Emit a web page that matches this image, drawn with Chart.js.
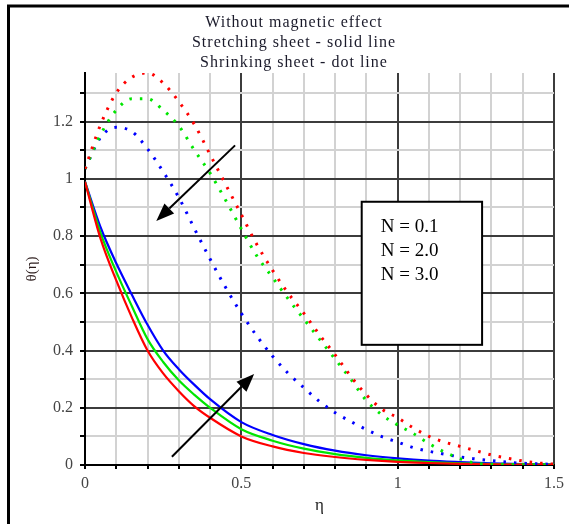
<!DOCTYPE html>
<html>
<head>
<meta charset="utf-8">
<script src="https://cdn.jsdelivr.net/npm/chart.js@4.4.0/dist/chart.umd.min.js"></script>
<style>
  html, body { margin: 0; padding: 0; background: #fff; }
  #wrap { position: relative; width: 569px; height: 524px; }
</style>
</head>
<body>
<div id="wrap"><canvas id="thetaChart"></canvas></div>
<script>
// eta grid for the stretching (solid) curves
const etaSolid = [0, 0.05, 0.1, 0.15, 0.2, 0.25, 0.3, 0.35, 0.4, 0.5, 0.6, 0.7, 0.8, 0.9, 1.0, 1.1, 1.2, 1.3, 1.4, 1.5];
const solidN01 = [0.99, 0.79, 0.645, 0.515, 0.40, 0.32, 0.258, 0.205, 0.165, 0.10, 0.065, 0.042, 0.028, 0.018, 0.011, 0.007, 0.004, 0.002, 0.001, 0.0];
const solidN20 = [0.99, 0.81, 0.675, 0.555, 0.44, 0.36, 0.296, 0.245, 0.20, 0.125, 0.085, 0.057, 0.038, 0.025, 0.016, 0.010, 0.006, 0.003, 0.002, 0.001];
const solidN30 = [0.99, 0.83, 0.705, 0.595, 0.49, 0.40, 0.335, 0.28, 0.23, 0.15, 0.105, 0.073, 0.05, 0.034, 0.023, 0.015, 0.010, 0.006, 0.003, 0.002];

// eta grid for the shrinking (dotted) curves
const etaDot = [0, 0.05, 0.1, 0.15, 0.2, 0.25, 0.3, 0.35, 0.4, 0.45, 0.5, 0.55, 0.6, 0.65, 0.7, 0.75,
                0.8, 0.85, 0.9, 0.95, 1.0, 1.05, 1.1, 1.15, 1.2, 1.25, 1.3, 1.35, 1.4, 1.45, 1.5];
const dotN01 = [1.035, 1.19, 1.30, 1.355, 1.37, 1.335, 1.27, 1.19, 1.085, 0.98, 0.875, 0.77, 0.68, 0.60, 0.53, 0.455,
                0.385, 0.31, 0.245, 0.195, 0.165, 0.13, 0.10, 0.08, 0.065, 0.05, 0.035, 0.024, 0.014, 0.007, 0.003];
const dotN20 = [1.035, 1.155, 1.24, 1.28, 1.28, 1.24, 1.185, 1.10, 1.02, 0.925, 0.825, 0.73, 0.655, 0.58, 0.51, 0.44,
                0.37, 0.30, 0.225, 0.175, 0.14, 0.11, 0.075, 0.045, 0.022, 0.006, 0.003, 0.002, 0.001, 0.001, 0.0];
const dotN30 = [1.035, 1.145, 1.18, 1.165, 1.105, 1.025, 0.935, 0.826, 0.72, 0.62, 0.53, 0.45, 0.38, 0.32, 0.27, 0.222,
                0.183, 0.152, 0.124, 0.099, 0.08, 0.061, 0.048, 0.038, 0.028, 0.021, 0.015, 0.01, 0.006, 0.004, 0.002];

const xTickLabels = [0, 0.5, 1, 1.5];
const yTickLabels = [0, 0.2, 0.4, 0.6, 0.8, 1, 1.2];
const legendLines = ['N = 0.1', 'N = 2.0', 'N = 3.0'];
const titleLines = ['Without magnetic effect', 'Stretching sheet - solid line', 'Shrinking sheet - dot line'];

// annotation placement, in data units
const legendBox = { x0: 0.885, x1: 1.27, y0: 0.92, y1: 0.42 };
const arrows = [
    { from: [0.48, 1.117], to: [0.228, 0.853] },
    { from: [0.278, 0.029], to: [0.541, 0.318] }
];

const RED = '#ff0000', GREEN = '#00e600', BLUE = '#0000ff';

function pairs(xs, ys) {
    return xs.map((x, i) => ({ x: x, y: ys[i] }));
}

function isOn(value, list) {
    return list.find(t => Math.abs(t - value) < 1e-6);
}

function solid(data, color) {
    return {
        data: pairs(etaSolid, data),
        borderColor: color,
        borderWidth: 2.2,
        pointRadius: 0,
        cubicInterpolationMode: 'monotone'
    };
}

function dotted(data, color) {
    return {
        data: pairs(etaDot, data),
        borderColor: color,
        borderWidth: 3,
        borderDash: [2.5, 8],
        borderCapStyle: 'butt',
        pointRadius: 0,
        cubicInterpolationMode: 'monotone'
    };
}

function drawArrow(ctx, x1, y1, x2, y2) {
    const ang = Math.atan2(y2 - y1, x2 - x1);
    const len = 18, half = 7;
    const bx = x2 - len * Math.cos(ang), by = y2 - len * Math.sin(ang);
    ctx.strokeStyle = '#000';
    ctx.lineWidth = 2;
    ctx.beginPath();
    ctx.moveTo(x1, y1);
    ctx.lineTo(bx, by);
    ctx.stroke();
    ctx.fillStyle = '#000';
    ctx.beginPath();
    ctx.moveTo(x2, y2);
    ctx.lineTo(bx + half * Math.sin(ang), by - half * Math.cos(ang));
    ctx.lineTo(bx - half * Math.sin(ang), by + half * Math.cos(ang));
    ctx.closePath();
    ctx.fill();
}

const decorations = {
    id: 'decorations',
    beforeDraw(chart) {
        const ctx = chart.ctx;
        ctx.save();
        ctx.fillStyle = '#fff';
        ctx.fillRect(0, 0, chart.width, chart.height);
        ctx.restore();
    },
    afterDatasetsDraw(chart) {
        const ctx = chart.ctx;
        const xs = chart.scales.x, ys = chart.scales.y;
        ctx.save();
        arrows.forEach(a => {
            drawArrow(ctx, xs.getPixelForValue(a.from[0]), ys.getPixelForValue(a.from[1]),
                xs.getPixelForValue(a.to[0]), ys.getPixelForValue(a.to[1]));
        });
        // legend box
        const l = xs.getPixelForValue(legendBox.x0), r = xs.getPixelForValue(legendBox.x1);
        const t = ys.getPixelForValue(legendBox.y0), b = ys.getPixelForValue(legendBox.y1);
        ctx.fillStyle = '#fff';
        ctx.fillRect(l, t, r - l, b - t);
        ctx.strokeStyle = '#000';
        ctx.lineWidth = 2;
        ctx.strokeRect(l, t, r - l, b - t);
        ctx.fillStyle = '#000';
        ctx.font = '19px "Liberation Serif"';
        ctx.textAlign = 'left';
        ctx.textBaseline = 'middle';
        legendLines.forEach((s, i) => ctx.fillText(s, l + 19, t + 25 + i * 24));
        ctx.restore();
    },
    afterDraw(chart) {
        const ctx = chart.ctx;
        ctx.save();
        // outer frame: only the left and top edges fall inside the picture
        ctx.strokeStyle = '#000';
        ctx.lineWidth = 3;
        ctx.beginPath();
        ctx.moveTo(8.5, chart.height);
        ctx.lineTo(8.5, 6);
        ctx.lineTo(chart.width, 6);
        ctx.stroke();
        // heading
        ctx.fillStyle = '#1a1a2a';
        ctx.font = '16px "Liberation Serif"';
        ctx.letterSpacing = '1px';
        ctx.textAlign = 'center';
        ctx.textBaseline = 'middle';
        titleLines.forEach((s, i) => ctx.fillText(s, 294, 23 + i * 20));
        ctx.restore();
    }
};

const thetaCanvas = document.getElementById('thetaChart');
new Chart(thetaCanvas.getContext('2d'), {
    type: 'line',
    data: {
        datasets: [
            dotted(dotN01, RED),
            dotted(dotN20, GREEN),
            dotted(dotN30, BLUE),
            solid(solidN01, RED),
            solid(solidN20, GREEN),
            solid(solidN30, BLUE)
        ]
    },
    options: {
        responsive: true,
        maintainAspectRatio: false,
        animation: false,
        devicePixelRatio: 1,
        layout: { padding: { left: 0, top: 73, right: 14, bottom: 0 } },
        plugins: {
            legend: { display: false },
            tooltip: { enabled: false },
            title: { display: false }
        },
        scales: {
            x: {
                type: 'linear',
                min: 0,
                max: 1.5,
                afterFit: s => { s.height = 59; },
                border: { color: '#000', width: 2 },
                grid: {
                    color: c => isOn(c.tick.value, xTickLabels) !== undefined ? '#3c3c3c' : '#d2d2d2',
                    lineWidth: 2,
                    tickColor: '#000',
                    tickLength: 4
                },
                ticks: {
                    stepSize: 0.1,
                    autoSkip: false,
                    maxRotation: 0,
                    padding: 5,
                    color: '#444',
                    font: { family: 'Liberation Serif', size: 16 },
                    callback: v => { const h = isOn(v, xTickLabels); return h === undefined ? '' : String(h); }
                },
                title: {
                    display: true,
                    text: 'η',
                    color: '#222',
                    font: { family: 'Liberation Serif', size: 17 },
                    padding: { bottom: 8 }
                }
            },
            y: {
                type: 'linear',
                min: 0,
                max: 1.37,
                bounds: 'data',
                afterFit: s => { s.width = 85; },
                border: { color: '#000', width: 2 },
                grid: {
                    color: c => isOn(c.tick.value, yTickLabels) !== undefined ? '#3c3c3c' : '#d2d2d2',
                    lineWidth: 2,
                    tickColor: '#000',
                    tickLength: 5
                },
                ticks: {
                    stepSize: 0.1,
                    includeBounds: false,
                    autoSkip: false,
                    padding: 7,
                    color: '#444',
                    font: { family: 'Liberation Serif', size: 16 },
                    callback: v => { const h = isOn(v, yTickLabels); return h === undefined ? '' : String(h); }
                },
                title: {
                    display: true,
                    text: 'θ(η)',
                    color: '#2a1a1a',
                    font: { family: 'Liberation Serif', size: 15 },
                    padding: { top: 23 }
                }
            }
        }
    },
    plugins: [decorations]
});
</script>
</body>
</html>
